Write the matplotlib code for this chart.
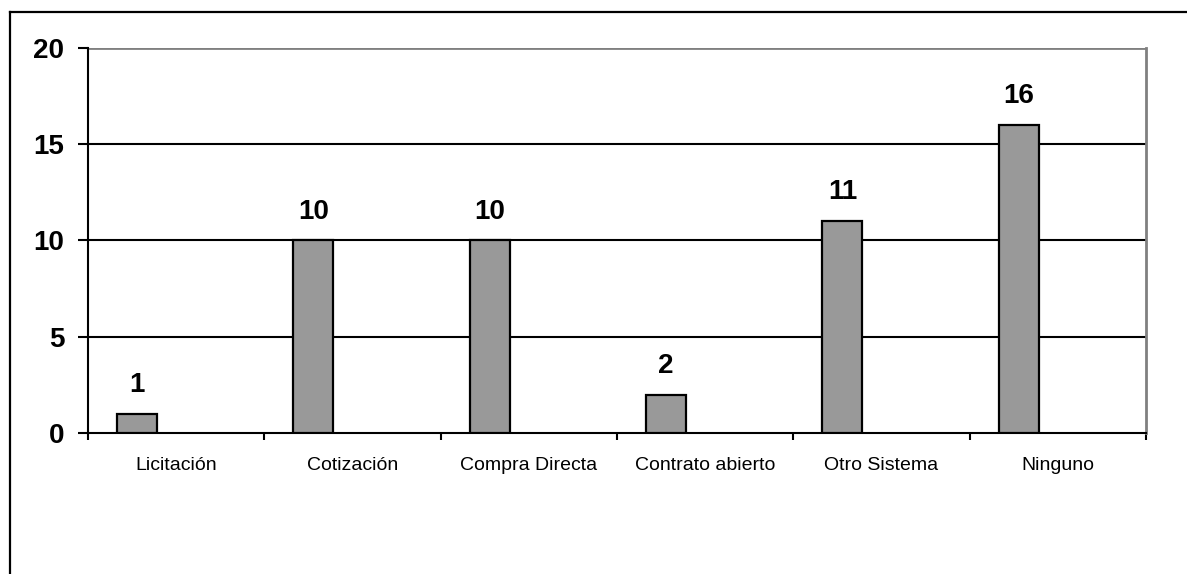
import matplotlib.pyplot as plt
from matplotlib.lines import Line2D
import numpy as np

plt.rcParams['font.family'] = ['Liberation Sans', 'DejaVu Sans']

categorias = ["Licitación", "Cotización", "Compra Directa",
              "Contrato abierto", "Otro Sistema", "Ninguno"]
valores = [1, 10, 10, 2, 11, 16]
yticks = [0, 5, 10, 15, 20]

fig = plt.figure(figsize=(11.87, 5.74), dpi=100)
ax = fig.add_axes([0.0741, 0.2456, 0.8914, 0.6709])

x = np.arange(len(categorias))
ax.bar(x - 0.222, valores, width=0.227, color="#999999",
       edgecolor="black", linewidth=1.6, zorder=3)

for xi, v in zip(x, valores):
    ax.annotate(str(v), (xi - 0.222, v), xytext=(0, 11.5),
                textcoords="offset points", ha="center", va="bottom",
                fontsize=20, fontweight="bold")

ax.set_xlim(-0.5, len(categorias) - 0.5)
ax.set_ylim(0, 20)

# horizontal gridlines, top one grey like the plot frame
for t in yticks[1:-1]:
    ax.axhline(t, color="black", linewidth=1.5, zorder=1)
ax.axhline(20, color="#808080", linewidth=2, zorder=1)

ax.set_yticks(yticks)
ax.set_yticklabels([str(t) for t in yticks], fontsize=20, fontweight="bold")
ax.tick_params(axis="y", direction="out", length=7, width=1.5, pad=10)

ax.set_xticks(x)
ax.set_xticklabels(categorias, fontsize=14)
ax.tick_params(axis="x", which="major", length=0, pad=17.5)
ax.set_xticks(np.arange(len(categorias) + 1) - 0.5, minor=True)
ax.tick_params(axis="x", which="minor", direction="out", length=5, width=1.5)

ax.spines["top"].set_visible(False)
ax.spines["right"].set_color("#808080")
ax.spines["right"].set_linewidth(2)
ax.spines["left"].set_linewidth(1.5)
ax.spines["bottom"].set_linewidth(1.5)

# outer chart frame
fig.add_artist(Line2D([10 / 1187, 1.0], [1 - 12 / 574, 1 - 12 / 574],
                      transform=fig.transFigure, color="black", linewidth=1.6))
fig.add_artist(Line2D([10 / 1187, 10 / 1187], [0.0, 1 - 12 / 574],
                      transform=fig.transFigure, color="black", linewidth=1.6))

fig.savefig("out.png", dpi=100)
